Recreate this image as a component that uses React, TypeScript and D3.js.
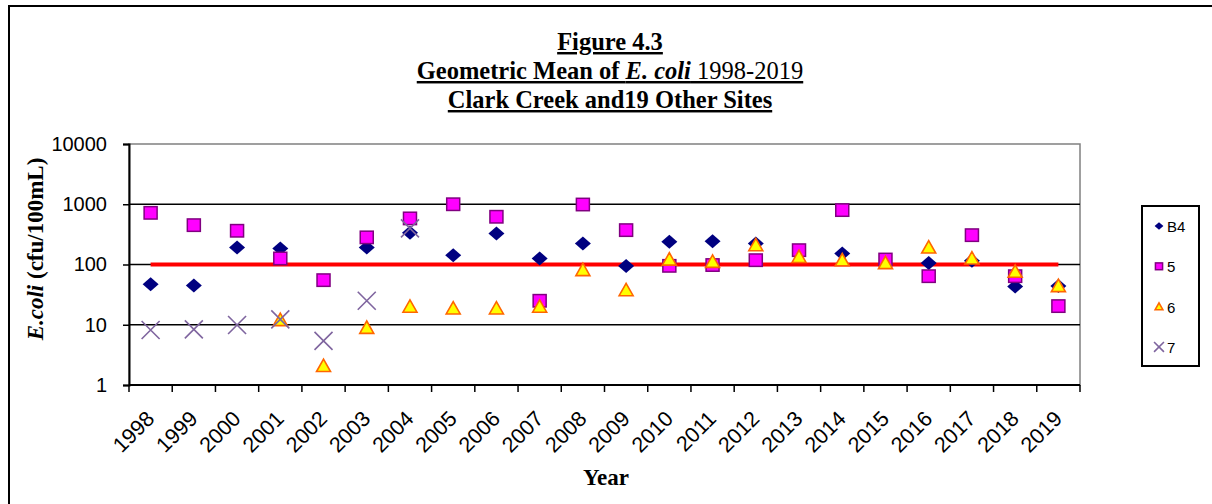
import { useRef, useEffect } from 'react';
import * as d3 from 'd3';

// Geometric mean of E. coli by year, four sites
const years = ['1998', '1999', '2000', '2001', '2002', '2003', '2004', '2005', '2006', '2007', '2008',
  '2009', '2010', '2011', '2012', '2013', '2014', '2015', '2016', '2017', '2018', '2019'];

const siteB4 = [47, 45, 192, 185, null, 192, 336, 143, 328, 126, 224,
  94, 238, 244, 224, null, 152, null, 106, 115, 43, 44];
const site5 = [720, 450, 363, 126, 55, 282, 582, 1000, 620, 25, 990,
  372, 95, 98, 118, 173, 800, 121, 64, 307, 64, 20.4];
const site6 = [null, null, null, 12, 2.07, 8.9, 20, 18.7, 18.7, 20, 81,
  37.6, 121, 111, 210, 134, 118, 106, 192, 126, 76, 44];
const site7 = [8.2, 8.4, 9.9, 12.3, 5.4, 25, 398, null, null, null, null,
  null, null, null, null, null, null, null, null, null, null, null];
const standard = years.map(() => 100);

const yTicks = [1, 10, 100, 1000, 10000];

const seriesDefs = [
  { name: 'B4', values: siteB4, shape: 'diamond' },
  { name: '5', values: site5, shape: 'square' },
  { name: '6', values: site6, shape: 'triangle' },
  { name: '7', values: site7, shape: 'cross' },
];

const W = 1212, H = 504;
const plot = { left: 129, right: 1080, top: 144, bottom: 385 };
const serif = '"Liberation Serif", "Times New Roman", serif';
const sans = '"Liberation Sans", Arial, sans-serif';

function drawMarker(g: any, shape: string, s: number) {
  // s = scale factor; 1 = plot size
  if (shape === 'diamond') {
    g.append('path').attr('d', `M${-8 * s},0L0,${-7 * s}L${8 * s},0L0,${7 * s}Z`).attr('fill', '#000080');
  } else if (shape === 'square') {
    g.append('rect').attr('x', -6.5 * s).attr('y', -6.2 * s).attr('width', 13 * s).attr('height', 12.4 * s)
      .attr('fill', '#FF00FF').attr('stroke', '#800080').attr('stroke-width', 1.5);
  } else if (shape === 'triangle') {
    g.append('path').attr('d', `M0,${-6.8 * s}L${7 * s},${5.6 * s}L${-7 * s},${5.6 * s}Z`)
      .attr('fill', '#FFFF00').attr('stroke', '#FF6600').attr('stroke-width', 1.6);
  } else {
    g.append('path').attr('d', `M${-9 * s},${-9 * s}L${9 * s},${9 * s}M${-9 * s},${9 * s}L${9 * s},${-9 * s}`)
      .attr('stroke', '#7F659F').attr('stroke-width', 1.6).attr('fill', 'none');
  }
}

export default function App() {
  const ref = useRef<SVGSVGElement>(null);

  useEffect(() => {
    const svg = d3.select(ref.current);
    svg.selectAll('*').remove();

    const x = d3.scaleBand().domain(years).range([plot.left, plot.right]).padding(0);
    const y = d3.scaleLog().domain([1, 10000]).range([plot.bottom, plot.top]);
    const cx = (yr: string) => (x(yr) as number) + x.bandwidth() / 2;

    svg.append('rect').attr('width', W).attr('height', H).attr('fill', '#fff');
    // outer chart border
    svg.append('rect').attr('x', 9).attr('y', 6).attr('width', W + 20).attr('height', H + 20)
      .attr('fill', 'none').attr('stroke', '#000').attr('stroke-width', 2);

    // title
    const titleLines = [
      [{ t: 'Figure 4.3' }],
      [{ t: 'Geometric Mean of ' }, { t: 'E. coli', i: true }, { t: ' 1998-2019', n: true }],
      [{ t: 'Clark Creek and19 Other Sites' }],
    ];
    titleLines.forEach((parts, k) => {
      const txt = svg.append('text').attr('x', 610).attr('y', 50 + k * 29)
        .attr('text-anchor', 'middle').attr('font-family', serif)
        .attr('font-size', 24.5).attr('font-weight', 'bold').attr('text-decoration', 'underline').attr('fill', '#000');
      parts.forEach((p: any) => {
        txt.append('tspan').attr('font-style', p.i ? 'italic' : null)
          .attr('font-weight', p.n ? 'normal' : null).text(p.t);
      });
    });

    // plot area border (grey top/right)
    svg.append('rect').attr('x', plot.left).attr('y', plot.top).attr('width', plot.right - plot.left)
      .attr('height', plot.bottom - plot.top).attr('fill', 'none').attr('stroke', '#808080').attr('stroke-width', 1.5);

    // gridlines
    svg.append('g').selectAll('line').data([10, 100, 1000]).join('line')
      .attr('x1', plot.left).attr('x2', plot.right).attr('y1', d => y(d)).attr('y2', d => y(d))
      .attr('stroke', '#000').attr('stroke-width', 1.5);

    // y axis
    const yAxis = svg.append('g').attr('transform', `translate(${plot.left},0)`)
      .call(d3.axisLeft(y).tickValues(yTicks).tickFormat(d3.format('d')).tickSize(6).tickPadding(16));
    yAxis.select('.domain').attr('stroke', '#000').attr('stroke-width', 2);
    yAxis.selectAll('.tick line').attr('stroke', '#000').attr('stroke-width', 1.5);
    yAxis.selectAll('text').attr('font-family', sans).attr('font-size', 20).attr('fill', '#000');

    // x axis
    svg.append('line').attr('x1', plot.left).attr('x2', plot.right).attr('y1', plot.bottom).attr('y2', plot.bottom)
      .attr('stroke', '#000').attr('stroke-width', 2);
    const bounds = years.map(yr => x(yr) as number).concat([plot.right]);
    svg.append('g').selectAll('line').data(bounds).join('line')
      .attr('x1', d => d).attr('x2', d => d).attr('y1', plot.bottom).attr('y2', plot.bottom + 7)
      .attr('stroke', '#000').attr('stroke-width', 1.5);
    svg.append('g').selectAll('text').data(years).join('text')
      .attr('transform', d => `translate(${cx(d) + 5},${420}) rotate(-45)`)
      .attr('text-anchor', 'end').attr('font-family', sans)
      .attr('font-size', 21.5).attr('fill', '#000').text(d => d);

    // axis titles
    const yt = svg.append('text').attr('transform', `translate(43,249) rotate(-90)`).attr('text-anchor', 'middle')
      .attr('font-family', serif).attr('font-size', 23).attr('font-weight', 'bold').attr('fill', '#000');
    yt.append('tspan').attr('font-style', 'italic').text('E.coli');
    yt.append('tspan').text(' (cfu/100mL)');
    svg.append('text').attr('x', 606).attr('y', 485).attr('text-anchor', 'middle')
      .attr('font-family', serif).attr('font-size', 23).attr('font-weight', 'bold').attr('fill', '#000').text('Year');

    // standard line (100 cfu)
    const line = d3.line<number>().x((_, i) => cx(years[i])).y(d => y(d));
    svg.append('path').datum(standard).attr('d', line).attr('fill', 'none')
      .attr('stroke', '#FF0000').attr('stroke-width', 4);

    // markers
    seriesDefs.forEach(s => {
      s.values.forEach((v, i) => {
        if (v == null) return;
        const g = svg.append('g').attr('transform', `translate(${cx(years[i])},${y(v)})`);
        drawMarker(g, s.shape, 1);
      });
    });

    // legend
    svg.append('rect').attr('x', 1142).attr('y', 206).attr('width', 57).attr('height', 160)
      .attr('fill', '#fff').attr('stroke', '#000').attr('stroke-width', 2);
    seriesDefs.forEach((s, i) => {
      const ly = 226 + i * 40.3;
      const g = svg.append('g').attr('transform', `translate(1159,${ly})`);
      drawMarker(g, s.shape, 0.55);
      svg.append('text').attr('x', 1167).attr('y', ly + 6).attr('font-family', sans)
        .attr('font-size', 15).attr('fill', '#000').text(s.name);
    });
  }, []);

  return (
    <svg ref={ref} width={W} height={H} style={{ position: 'absolute', left: 0, top: 0, display: 'block' }} />
  );
}
